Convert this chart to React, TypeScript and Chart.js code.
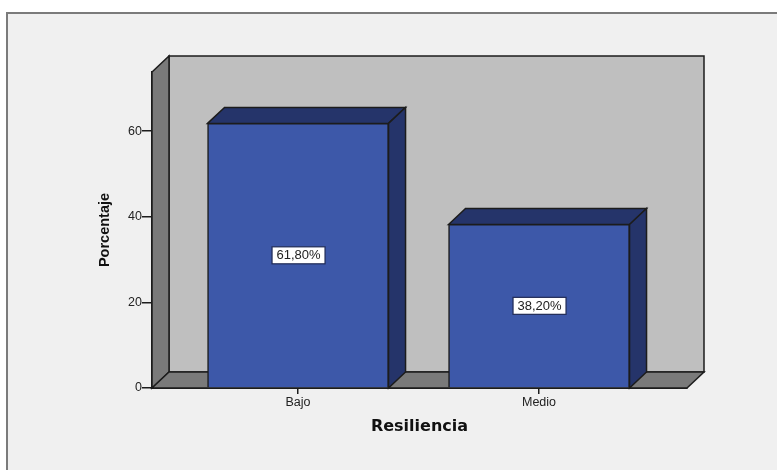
import React, { useEffect, useRef } from "react";
import { Chart, registerables } from "chart.js";

Chart.register(...registerables);

const categories = ["Bajo", "Medio"];
const percentages = [61.8, 38.2];
const valueLabels = ["61,80%", "38,20%"];
const yTicks = [0, 20, 40, 60];

const FONT = "'Liberation Sans', Arial, sans-serif";
const WIDE_FONT = "'DejaVu Sans', Verdana, sans-serif";
const DX = 17;
const DY = 16;
const INK = "#1c1c1c";

function poly(ctx: CanvasRenderingContext2D, pts: number[][], fill: string) {
  ctx.beginPath();
  pts.forEach(([x, y], i) => (i ? ctx.lineTo(x, y) : ctx.moveTo(x, y)));
  ctx.closePath();
  ctx.fillStyle = fill;
  ctx.fill();
  ctx.lineWidth = 1.5;
  ctx.strokeStyle = INK;
  ctx.lineJoin = "miter";
  ctx.stroke();
}

const scene3d = {
  id: "scene3d",
  beforeDraw(chart: any) {
    const { ctx, width, height } = chart;
    ctx.save();
    ctx.fillStyle = "#ffffff";
    ctx.fillRect(0, 0, width, height);
    ctx.fillStyle = "#f0f0f0";
    ctx.fillRect(6, 12, width - 6, height - 12);
    ctx.fillStyle = "#7b7b7b";
    ctx.fillRect(6, 12, width - 6, 2);
    ctx.fillRect(6, 12, 2, height - 12);
    ctx.restore();
  },
  beforeDatasetsDraw(chart: any) {
    const { ctx, chartArea: a } = chart;
    const { left: l, right: r, top: t, bottom: b } = a;
    ctx.save();
    poly(ctx, [[l + DX, t - DY], [r + DX, t - DY], [r + DX, b - DY], [l + DX, b - DY]], "#bfbfbf");
    poly(ctx, [[l, t], [l + DX, t - DY], [l + DX, b - DY], [l, b]], "#7a7a7a");
    poly(ctx, [[l, b], [l + DX, b - DY], [r + DX, b - DY], [r, b]], "#7a7a7a");
    chart.getDatasetMeta(0).data.forEach((bar: any) => {
      const x0 = bar.x - bar.width / 2;
      const x1 = bar.x + bar.width / 2;
      poly(ctx, [[x0, bar.y], [x0 + DX, bar.y - DY], [x1 + DX, bar.y - DY], [x1, bar.y]], "#25346a");
      poly(ctx, [[x1, bar.y], [x1 + DX, bar.y - DY], [x1 + DX, b - DY], [x1, b]], "#25346a");
    });
    ctx.restore();
  },
  afterDatasetsDraw(chart: any) {
    const { ctx } = chart;
    ctx.save();
    ctx.font = `13px ${FONT}`;
    ctx.textAlign = "center";
    ctx.textBaseline = "middle";
    chart.getDatasetMeta(0).data.forEach((bar: any, i: number) => {
      const cy = (bar.y + bar.base) / 2;
      ctx.fillStyle = "#ffffff";
      ctx.strokeStyle = "#1f2a55";
      ctx.lineWidth = 1.2;
      ctx.fillRect(bar.x - 26, cy - 8.5, 53, 17);
      ctx.strokeRect(bar.x - 26, cy - 8.5, 53, 17);
      ctx.fillStyle = "#222222";
      ctx.fillText(valueLabels[i], bar.x + 0.5, cy + 0.5);
    });
    ctx.restore();
  },
};

export default function App() {
  const ref = useRef<HTMLCanvasElement>(null);
  useEffect(() => {
    const chart = new Chart(ref.current!, {
      type: "bar",
      data: {
        datasets: [
          {
            data: percentages.map((y, x) => ({ x, y })),
            backgroundColor: "#3d58a9",
            borderColor: INK,
            borderWidth: 1.5,
            barThickness: 181,
          },
        ],
      },
      plugins: [scene3d],
      options: {
        animation: false,
        responsive: false,
        devicePixelRatio: 1,
        layout: { padding: { left: 0, right: 90, top: 72, bottom: 0 } },
        plugins: { legend: { display: false }, tooltip: { enabled: false } },
        scales: {
          x: {
            type: "linear",
            offset: false,
            min: -0.606,
            max: 1.614,
            afterFit: (s: any) => { s.height = 82; },
            afterBuildTicks: (s: any) => { s.ticks = categories.map((_, value) => ({ value })); },
            grid: { offset: false, drawOnChartArea: false, color: INK, tickLength: 6, lineWidth: 1.5 },
            border: { color: INK, width: 2 },
            ticks: {
              autoSkip: false, maxRotation: 0, padding: 1, color: "#222222",
              font: { family: FONT, size: 12.5 },
              callback: (v: any) => categories[v],
            },
            title: {
              display: true, text: "Resiliencia", color: "#111111",
              font: { family: WIDE_FONT, size: 16, weight: "bold" },
              padding: { top: 0, bottom: 34 },
            },
          },
          y: {
            min: 0,
            max: 73.8,
            afterFit: (s: any) => { s.width = 152; },
            afterBuildTicks: (s: any) => { s.ticks = yTicks.map((value) => ({ value })); },
            grid: { drawOnChartArea: false, color: INK, tickLength: 10, lineWidth: 1.5 },
            border: { color: INK, width: 2 },
            ticks: { padding: 0, color: "#222222", font: { family: FONT, size: 12.5 } },
            title: {
              display: true, text: "Porcentaje", color: "#111111",
              font: { family: FONT, size: 14.5, weight: "bold" },
              padding: { top: 96, bottom: 0 },
            },
          },
        },
      },
    } as any);
    return () => chart.destroy();
  }, []);
  return (
    <canvas
      ref={ref}
      width={777}
      height={470}
      style={{ position: "fixed", left: 0, top: 0, width: 777, height: 470, display: "block" }}
    />
  );
}
